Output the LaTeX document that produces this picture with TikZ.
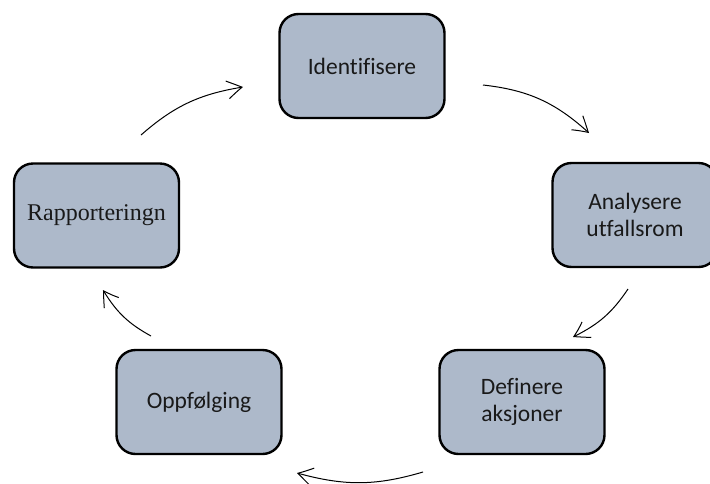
\documentclass[tikz,border=0pt]{standalone}
\usepackage{fontspec}
\setmainfont{Carlito}[Ligatures=CommonOff]
\newfontfamily\serifface{Liberation Serif}
\usetikzlibrary{arrows.meta,bending}
\definecolor{boxfill}{HTML}{ADB9CA}
\begin{document}
\begin{tikzpicture}[x=1pt,y=-1pt,
  stepbox/.style={draw=black, line width=2.4pt, fill=boxfill, rounded corners=19pt,
    minimum width=165pt, minimum height=104pt, inner sep=0pt, align=center,
    text=black!90, font=\fontsize{23.5}{27}\selectfont},
  flow/.style={line width=1pt, black,
    -{Straight Barb[length=15pt,width=18pt,bend]}},
]
\useasboundingbox (0,0) rectangle (710,483);

% process steps
\node[stepbox] (ident) at (362,66) {Identifisere};
\node[stepbox] (anal) at (635,215) {Analysere\\utfallsrom};
\node[stepbox] (def) at (522,402) {Definere\\aksjoner};
\node[stepbox] (opp) at (199,402) {Oppfølging};
\node[stepbox, font=\serifface\fontsize{24}{28}\selectfont] (rapp) at (96.5,215.5) {Rapporteringn};

% ends of the cycle arrows
\coordinate (a1s) at (483,85);  \coordinate (a1e) at (589,133);
\coordinate (a2s) at (628,289); \coordinate (a2e) at (573,337);
\coordinate (a3s) at (423,472); \coordinate (a3e) at (297,473);
\coordinate (a4s) at (151,336); \coordinate (a4e) at (103,290);
\coordinate (a5s) at (141,135); \coordinate (a5e) at (243,87);

\draw[flow] (a1s) to[bend left=18] (a1e);
\draw[flow] (a2s) to[bend left=15] (a2e);
\draw[flow] (a3s) to[bend left=16] (a3e);
\draw[flow] (a4s) to[bend left=15] (a4e);
\draw[flow] (a5s) to[bend left=16] (a5e);
\end{tikzpicture}
\end{document}
